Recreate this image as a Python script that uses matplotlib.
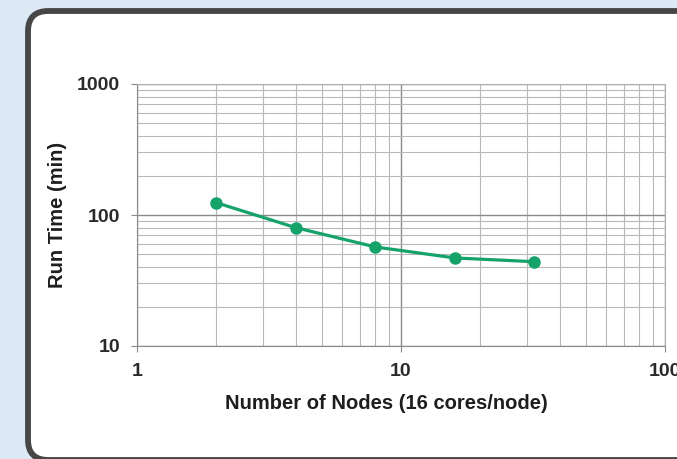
import matplotlib.pyplot as plt
from matplotlib.patches import FancyBboxPatch
from matplotlib.ticker import LogLocator, NullFormatter, FixedLocator

# Run time scaling on a log-log grid
nodes = [2, 4, 8, 16, 32]
run_time = [124, 80, 57, 47, 44]
x_ticks = [1, 10, 100]
x_labels = ['1', '10', '100']
y_ticks = [10, 100, 1000]
y_labels = ['10', '100', '1000']

fig = plt.figure(figsize=(6.77, 4.59), dpi=100)
fig.patch.set_facecolor('#dce8f3')

# white rounded panel with a dark border
panel = FancyBboxPatch((28 / 677, -1 / 459), 700 / 677, 449 / 459,
                       boxstyle='round,pad=0,rounding_size=0.03',
                       transform=fig.transFigure, facecolor='white',
                       edgecolor='#464646', linewidth=4.2, zorder=-5,
                       mutation_aspect=677 / 459)
fig.patches.append(panel)

ax = fig.add_axes([137 / 677, 1 - 346 / 459, (665 - 137) / 677, (346 - 84) / 459])
ax.set_zorder(2)
ax.set_facecolor('white')
ax.set_xscale('log')
ax.set_yscale('log')
ax.set_xlim(1, 100)
ax.set_ylim(10, 1000)

ax.xaxis.set_major_locator(FixedLocator(x_ticks))
ax.set_xticklabels(x_labels)
ax.yaxis.set_major_locator(FixedLocator(y_ticks))
ax.set_yticklabels(y_labels)
ax.xaxis.set_minor_locator(LogLocator(base=10, subs=range(2, 10)))
ax.yaxis.set_minor_locator(LogLocator(base=10, subs=range(2, 10)))
ax.xaxis.set_minor_formatter(NullFormatter())
ax.yaxis.set_minor_formatter(NullFormatter())

ax.grid(which='major', color='#8a8a8a', linewidth=1.0)
ax.grid(which='minor', color='#b8b8b8', linewidth=0.8)
ax.set_axisbelow(True)

for side in ['top', 'right']:
    ax.spines[side].set_color('#b0b0b0')
for side in ['left', 'bottom']:
    ax.spines[side].set_color('#8a8a8a')
ax.tick_params(which='major', length=4, color='#8a8a8a', labelsize=14, pad=8)
ax.tick_params(which='minor', length=0)
for lbl in ax.get_xticklabels() + ax.get_yticklabels():
    lbl.set_fontfamily('Liberation Sans')
    lbl.set_fontweight('bold')
    lbl.set_color('#2a2a2a')

ax.plot(nodes, run_time, color='#16a36a', linewidth=2.3, marker='o',
        markersize=8, zorder=3, clip_on=False)

ax.set_xlabel('Number of Nodes (16 cores/node)', fontsize=14.5, fontweight='bold',
              fontfamily='Liberation Sans', color='#1e1e1e', labelpad=10)
ax.xaxis.label.set_x((386 - 137) / 528)
ax.set_ylabel('Run Time (min)', fontsize=14.5, fontweight='bold',
              fontfamily='Liberation Sans', color='#1e1e1e', labelpad=7)

fig.savefig('out.png', dpi=100)
